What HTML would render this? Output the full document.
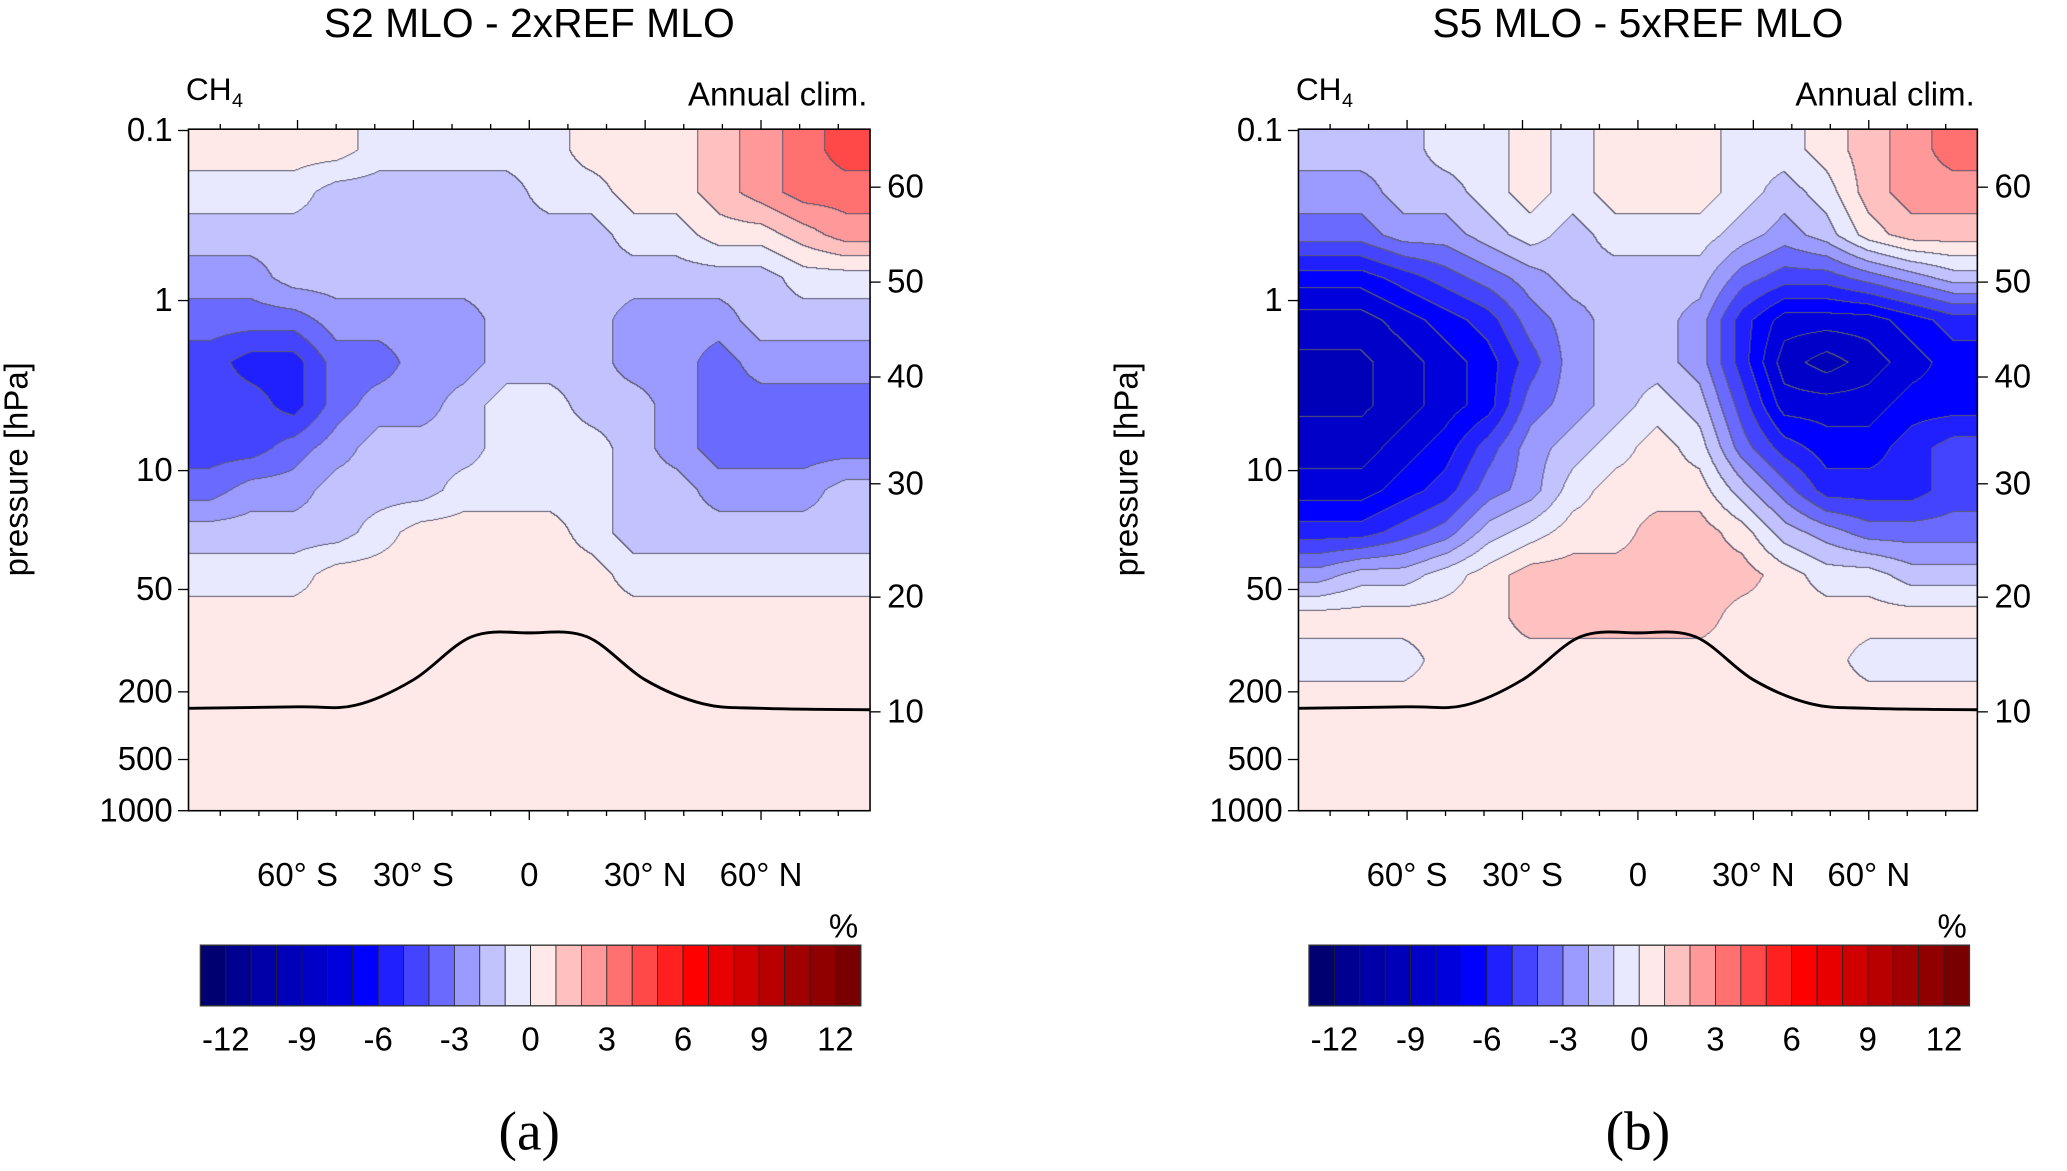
<!DOCTYPE html>
<html><head><meta charset="utf-8"><style>
body{margin:0;background:#fff;overflow:hidden}
#root{position:absolute;left:0;top:0;width:1568px;height:888px;transform:scale(1.31824);transform-origin:0 0;font-family:"Liberation Sans",sans-serif}
canvas{position:absolute}
svg{position:absolute;left:0;top:0}
</style></head><body>
<div id="root">
<canvas id="ca" style="left:143px;top:98px;width:517px;height:517px" width="682" height="682"></canvas>
<canvas id="cb" style="left:985px;top:98px;width:515px;height:517px" width="679" height="682"></canvas>
<svg id="sv" width="1568" height="888" viewBox="0 0 1568 888"></svg>
</div>
<script>
const lats=[-83,-72,-61,-50,-39,-28,-17,-6,5,16,27,38,49,60,71,82];
const levels=[0.13,0.23,0.41,0.73,1.3,2.3,4.1,7.3,13,23,41,73,130,230,410,730];
const P=0.5;
const valsA=[
[P,P,P,P,-.5,-.5,-.5,-.5,-.5,P,P,P,1.5,2.5,3.5,4.5],
[-.5,-.5,-.5,-1.5,-1.5,-1.5,-1.5,-1.5,-.5,-.5,P,P,1.5,2.5,3.5,3.5],
[-1.5,-1.5,-1.5,-1.5,-1.5,-1.5,-1.5,-1.5,-1.5,-1.5,-.5,-.5,P,P,1.5,2.5],
[-2.5,-2.5,-1.5,-1.5,-1.5,-1.5,-1.5,-1.5,-1.5,-1.5,-1.5,-1.5,-1.5,-1.5,-.5,-.5],
[-3.5,-3.5,-3.5,-2.5,-2.5,-2.5,-2.5,-1.5,-1.5,-1.5,-2.5,-2.5,-2.5,-1.5,-1.5,-1.5],
[-4.5,-5.5,-5.5,-3.5,-3.5,-2.5,-2.5,-1.5,-1.5,-1.5,-2.5,-2.5,-3.5,-2.5,-2.5,-2.5],
[-4.5,-4.5,-5.5,-3.5,-2.5,-2.5,-1.5,-.5,-.5,-1.5,-1.5,-2.5,-3.5,-3.5,-3.5,-3.5],
[-4.5,-4.5,-3.5,-2.5,-1.5,-1.5,-1.5,-.5,-.5,-.5,-1.5,-2.5,-3.5,-3.5,-3.5,-3.5],
[-3.5,-2.5,-2.5,-1.5,-1.5,-1.5,-.5,-.5,-.5,-.5,-1.5,-1.5,-2.5,-2.5,-2.5,-1.5],
[-1.5,-1.5,-1.5,-1.5,-.5,P,P,P,P,-.5,-1.5,-1.5,-1.5,-1.5,-1.5,-1.5],
[-.5,-.5,-.5,P,P,P,P,P,P,P,-.5,-.5,-.5,-.5,-.5,-.5],
[P,P,P,P,P,P,P,P,P,P,P,P,P,P,P,P],
[P,P,P,P,P,P,P,P,P,P,P,P,P,P,P,P],
[P,P,P,P,P,P,P,P,P,P,P,P,P,P,P,P],
[P,P,P,P,P,P,P,P,P,P,P,P,P,P,P,P],
[P,P,P,P,P,P,P,P,P,P,P,P,P,P,P,P]];
const valsB=[
[-1.5,-1.5,-1.5,-.5,-.5,P,-.5,P,P,P,-.5,-.5,P,1.5,2.5,3.5],
[-2.5,-2.5,-1.5,-1.5,-.5,P,-.5,P,P,P,-.5,-1.5,-.5,1.5,2.5,2.5],
[-3.5,-3.5,-2.5,-2.5,-1.5,-.5,-1.5,-.5,-.5,-.5,-1.5,-2.5,-1.5,P,1.5,1.5],
[-6.5,-6.5,-5.5,-4.5,-3.5,-2.5,-1.5,-1.5,-1.5,-1.5,-3.5,-4.5,-4.5,-3.5,-2.5,-1.5],
[-8.5,-8.5,-7.5,-6.5,-5.5,-3.5,-2.5,-1.5,-1.5,-2.5,-5.5,-7.5,-7.5,-7.5,-6.5,-5.5],
[-9.2,-9.2,-8.5,-7.5,-6.5,-4.5,-2.5,-1.5,-1.5,-2.5,-5.5,-8.5,-9.5,-8.5,-7.5,-6.5],
[-9.2,-9.2,-8.5,-7.5,-6.5,-3.5,-2.5,-1.5,-.5,-1.5,-4.5,-7.5,-7.5,-7.5,-6.5,-6.5],
[-8.5,-8.5,-7.5,-6.5,-4.5,-2.5,-1.5,-.5,P,-.5,-3.5,-5.5,-6.5,-6.5,-5.5,-4.5],
[-7.5,-7.5,-6.5,-5.5,-3.5,-2.5,-.5,P,P,P,-1.5,-3.5,-5.5,-5.5,-5.5,-4.5],
[-5.5,-5.5,-4.5,-3.5,-1.5,-.5,P,P,1.5,1.5,P,-1.5,-2.5,-3.5,-3.5,-3.5],
[-2.5,-1.5,-1.5,-.5,P,1.5,1.5,1.5,1.5,1.5,1.5,P,-.5,-.5,-1.5,-1.5],
[P,P,P,P,P,1.5,1.5,1.5,1.5,1.5,P,P,P,P,P,P],
[-.5,-.5,-.5,P,P,P,P,P,P,P,P,P,P,-.5,-.5,-.5],
[P,P,P,P,P,P,P,P,P,P,P,P,P,P,P,P],
[P,P,P,P,P,P,P,P,P,P,P,P,P,P,P,P],
[P,P,P,P,P,P,P,P,P,P,P,P,P,P,P,P]];
const tropLats=[-90,-60,-45,-30,-15,0,15,30,45,60,90];
const tropP=[250,245,240,170,95,90,95,170,235,250,255];
const pTicks=[0.1,1,10,50,200,500,1000];
const kmTicks=[60,50,40,30,20,10];
const kmY=[142,214,286,367,453,540];
const latTicks=[-60,-30,0,30,60];
const latLabels=["60° S","30° S","0","30° N","60° N"];
const cbarVals=[-12,-9,-6,-3,0,3,6,9,12];
const colors=["#000070","#000090","#0000a8","#0000b8","#0000c8","#0000dc","#0000ff","#2020ff","#4444ff","#6a6aff","#9a9aff","#c2c2ff","#e8e8ff","#ffe8e8","#ffc0c0","#ff9898","#ff7070","#ff4848","#ff2020","#ff0000","#e80000","#d00000","#b80000","#a00000","#900000","#780000"];

const Y0=98,Y1=615;
function yP(p){return 228+129*Math.log10(p);}
function rgb(h){return [parseInt(h.substr(1,2),16),parseInt(h.substr(3,2),16),parseInt(h.substr(5,2),16)];}
const rgbs=colors.map(rgb);
function sm(t){return t*t*(3-2*t);}

function drawField(id,vals,X0,X1){
  const c=document.getElementById(id),ctx=c.getContext('2d');
  const W=c.width,H=c.height,img=ctx.createImageData(W,H);
  const lv=new Int32Array(W*H);
  const ry=levels.map(yP);
  const cx=lats.map(l=>(X0+X1)/2+l*2.93*(X1-X0)/517);
  for(let j=0;j<H;j++){
    const y=Y0+j*(Y1-Y0)/H;
    let r=0;while(r<ry.length-2&&y>ry[r+1])r++;
    let ty=(y-ry[r])/(ry[r+1]-ry[r]);ty=Math.max(0,Math.min(1,ty));
    for(let i=0;i<W;i++){
      const x=X0+i*(X1-X0)/W;
      let k=0;while(k<cx.length-2&&x>cx[k+1])k++;
      let tx=(x-cx[k])/(cx[k+1]-cx[k]);tx=Math.max(0,Math.min(1,tx));
      const v=(vals[r][k]*(1-tx)+vals[r][k+1]*tx)*(1-ty)+(vals[r+1][k]*(1-tx)+vals[r+1][k+1]*tx)*ty;
      lv[j*W+i]=Math.max(0,Math.min(25,Math.floor(v)+13));
    }
  }
  for(let j=0;j<H;j++)for(let i=0;i<W;i++){
    const q=j*W+i;let col=rgbs[lv[q]];
    let edge=(i<W-1&&lv[q]!=lv[q+1])||(j<H-1&&lv[q]!=lv[q+W]);
    if(edge)col=[90,90,110];
    img.data[q*4]=col[0];img.data[q*4+1]=col[1];img.data[q*4+2]=col[2];img.data[q*4+3]=255;
  }
  ctx.putImageData(img,0,0);
}
drawField('ca',valsA,143,660);
drawField('cb',valsB,985,1500);

const sv=document.getElementById('sv');
const NS='http://www.w3.org/2000/svg';
function el(t,a,txt){const e=document.createElementNS(NS,t);for(const k in a)e.setAttribute(k,a[k]);if(txt!=null)e.textContent=txt;sv.appendChild(e);return e;}

function panel(X0,X1,title,tag,cbX0,cbX1){
  const xLat=l=>(X0+X1)/2+l*2.93*(X1-X0)/517;
  // tropopause, smooth (catmull-rom)
  const pts=tropLats.map((l,i)=>[Math.max(X0,Math.min(X1,xLat(l))),yP(tropP[i])]);
  let d='M'+pts[0][0].toFixed(1)+','+pts[0][1].toFixed(1);
  for(let i=0;i<pts.length-1;i++){
    const p0=pts[Math.max(0,i-1)],p1=pts[i],p2=pts[i+1],p3=pts[Math.min(pts.length-1,i+2)];
    const c1=[p1[0]+(p2[0]-p0[0])/6,p1[1]+(p2[1]-p0[1])/6],c2=[p2[0]-(p3[0]-p1[0])/6,p2[1]-(p3[1]-p1[1])/6];
    d+='C'+c1.map(v=>v.toFixed(1)).join(',')+' '+c2.map(v=>v.toFixed(1)).join(',')+' '+p2.map(v=>v.toFixed(1)).join(',');
  }
  let e=el('path',{d:d,fill:'none',stroke:'#000','stroke-width':2.2,'stroke-linejoin':'round'});
  
  e=el('rect',{x:X0,y:Y0,width:X1-X0,height:Y1-Y0,fill:'none',stroke:'#000','stroke-width':1.2});
  
  for(let l=-80;l<=80;l+=10){const x=xLat(l),big=l%30==0;
    el('line',{x1:x,y1:Y0,x2:x,y2:Y0-(big?7:4),stroke:'#000'});
    el('line',{x1:x,y1:Y1,x2:x,y2:Y1+(big?7:4),stroke:'#000'});}
  latTicks.forEach((l,i)=>{e=el('text',{x:xLat(l),y:672,'font-size':25,'text-anchor':'middle'},latLabels[i]);
    });
  pTicks.forEach(p=>{const y=yP(Math.min(p,1000));el('line',{x1:X0,y1:y,x2:X0-8,y2:y,stroke:'#000'});
    e=el('text',{x:X0-12,y:y+8,'font-size':25,'text-anchor':'end'},String(p));
    });
  kmTicks.forEach((k,i)=>{const y=kmY[i];el('line',{x1:X1,y1:y,x2:X1+8,y2:y,stroke:'#000'});
    e=el('text',{x:X1+13,y:y+8,'font-size':25},String(k));
    });
  e=el('text',{x:(X0+X1)/2,y:28,'font-size':31,'text-anchor':'middle'},title);
  
  e=el('text',{x:X0-2,y:76,'font-size':24},'CH');
  
  el('text',{x:X0+33,y:81,'font-size':15},'4');
  e=el('text',{x:X1-2,y:80,'font-size':25,'text-anchor':'end'},'Annual clim.');
  
  e=el('text',{x:0,y:0,'font-size':25,'text-anchor':'middle',transform:`translate(${X0-122},356) rotate(-90)`},'pressure [hPa]');
  
  const n=colors.length,w=(cbX1-cbX0)/n;
  colors.forEach((c,i)=>{const r=el('rect',{x:cbX0+i*w,y:717,width:w,height:46,fill:c,stroke:'#222','stroke-width':0.6});
    });
  el('rect',{x:cbX0,y:717,width:cbX1-cbX0,height:46,fill:'none',stroke:'#333','stroke-width':1});
  cbarVals.forEach(v=>{e=el('text',{x:cbX0+(v+13)*w,y:797,'font-size':25,'text-anchor':'middle'},String(v));
    });
  e=el('text',{x:cbX1-2,y:711,'font-size':25,'text-anchor':'end'},'%');
  
  e=el('text',{x:(X0+X1)/2,y:872,'font-size':42,'text-anchor':'middle','font-family':'Liberation Serif, serif'},tag);
  
}
panel(143,660,'S2 MLO - 2xREF MLO','(a)',152,653);
panel(985,1500,'S5 MLO - 5xREF MLO','(b)',993,1494);
</script>
</body></html>
